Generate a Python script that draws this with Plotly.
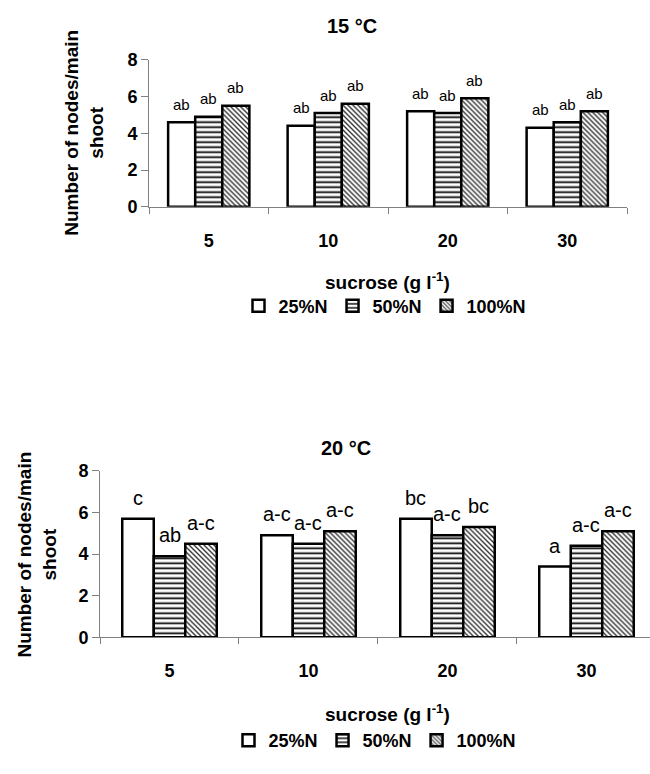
import plotly.graph_objects as go

# ---------------- data ----------------
sucrose = ["5", "10", "20", "30"]
series_names = ["25%N", "50%N", "100%N"]

t15_25 = [4.6, 4.4, 5.2, 4.3]
t15_50 = [4.9, 5.1, 5.1, 4.6]
t15_100 = [5.5, 5.6, 5.9, 5.2]
t15_lab_25 = ["ab", "ab", "ab", "ab"]
t15_lab_50 = ["ab", "ab", "ab", "ab"]
t15_lab_100 = ["ab", "ab", "ab", "ab"]

t20_25 = [5.7, 4.9, 5.7, 3.4]
t20_50 = [3.9, 4.5, 4.9, 4.4]
t20_100 = [4.5, 5.1, 5.3, 5.1]
t20_lab_25 = ["c", "a-c", "bc", "a"]
t20_lab_50 = ["ab", "a-c", "a-c", "a-c"]
t20_lab_100 = ["a-c", "a-c", "bc", "a-c"]

y_ticks = [0, 2, 4, 6, 8]
y_title = "Number of nodes/main<br>shoot"
x_title = "sucrose (g l<sup>-1</sup>)"

# ---------------- layout helpers ----------------
W, H = 650, 774
FONT = "Liberation Sans, Arial, sans-serif"
AX = "#808080"
BARGAP = 0.32
pos = list(range(len(sucrose)))          # category index positions
bounds = [p - 0.5 for p in pos] + [pos[-1] + 0.5]


def fx(p):
    return p / W


def fy(p):
    return 1 - p / H


def bold(size):
    return dict(family=FONT, size=size, color="black", weight="bold")


patterns = [
    dict(shape="", fillmode="replace"),
    dict(shape="-", fgcolor="black", bgcolor="white", size=5, solidity=0.35, fillmode="replace"),
    dict(shape="\\", fgcolor="#333333", bgcolor="white", size=3.5, solidity=0.4, fillmode="replace"),
]

fig = go.Figure()

charts = [
    dict(xa="x", ya="y", legend="legend",
         vals=[t15_25, t15_50, t15_100],
         labs=[t15_lab_25, t15_lab_50, t15_lab_100],
         px_left=149, px_right=627, xrange=[-0.5, 3.5],
         lab_size=15, lab_shift=18),
    dict(xa="x2", ya="y2", legend="legend2",
         vals=[t20_25, t20_50, t20_100],
         labs=[t20_lab_25, t20_lab_50, t20_lab_100],
         px_left=100, px_right=650, xrange=[-0.5, 3.457],
         lab_size=20, lab_shift=21),
]

annotations = []
for c in charts:
    cat_px = (c["px_right"] - c["px_left"]) / (c["xrange"][1] - c["xrange"][0])
    bw = cat_px * (1 - BARGAP) / 3
    for s, name in enumerate(series_names):
        fig.add_trace(go.Bar(
            x=pos, y=c["vals"][s], name=name,
            xaxis=c["xa"], yaxis=c["ya"], legend=c["legend"],
            marker=dict(color="white", line=dict(color="black", width=2.5),
                        pattern=patterns[s]),
            hoverinfo="skip",
        ))
        for i in pos:
            annotations.append(dict(
                x=i, y=c["vals"][s][i], xref=c["xa"], yref=c["ya"],
                text=c["labs"][s][i], showarrow=False,
                xanchor="center", yanchor="middle",
                xshift=(s - 1) * bw, yshift=c["lab_shift"],
                font=dict(family=FONT, size=c["lab_size"], color="black"),
            ))

# titles
common_ann = dict(xref="paper", yref="paper", showarrow=False,
                  xanchor="center", yanchor="middle")
annotations += [
    dict(text="15 °C", x=fx(352), y=fy(16), font=bold(20), **common_ann),
    dict(text="20 °C", x=fx(346), y=fy(450), font=bold(20), **common_ann),
    dict(text=y_title, x=fx(84), y=fy(126), textangle=-90, font=bold(19), **common_ann),
    dict(text=y_title, x=fx(37), y=fy(559), textangle=-90, font=bold(19), **common_ann),
    dict(text=x_title, x=fx(387), y=fy(278), font=bold(19), **common_ann),
    dict(text=x_title, x=fx(387), y=fy(722), font=bold(19), **common_ann),
]

xcommon = dict(tickvals=pos, ticktext=sucrose, ticks="",
               minor=dict(tickvals=bounds, ticks="outside", ticklen=6, tickcolor=AX),
               showline=True, linecolor=AX, linewidth=1,
               tickfont=bold(18),
               showgrid=False, zeroline=False, fixedrange=True)
ycommon = dict(range=[0, 8], tickvals=y_ticks, showline=True, linecolor=AX, linewidth=1,
               ticks="outside", ticklen=7, tickcolor=AX,
               tickfont=bold(18),
               showgrid=False, zeroline=False, fixedrange=True)

legcommon = dict(orientation="h", xanchor="center", yanchor="middle",
                 font=bold(18),
                 bgcolor="rgba(0,0,0,0)", itemwidth=30, traceorder="normal",
                 itemclick=False, itemdoubleclick=False)

fig.update_layout(
    width=W, height=H, margin=dict(l=0, r=0, t=0, b=0),
    paper_bgcolor="white", plot_bgcolor="white",
    barmode="group", bargap=BARGAP, bargroupgap=0,
    xaxis=dict(domain=[fx(149), fx(627)], range=charts[0]["xrange"], anchor="y",
               ticklabelstandoff=18, **xcommon),
    yaxis=dict(domain=[fy(202), fy(51)], anchor="x", **ycommon),
    xaxis2=dict(domain=[fx(100), 1.0], range=charts[1]["xrange"], anchor="y2",
                ticklabelstandoff=17, **xcommon),
    yaxis2=dict(domain=[fy(644), fy(473)], anchor="x2", **ycommon),
    legend=dict(x=fx(385), y=fy(304), **legcommon),
    legend2=dict(x=fx(375), y=fy(750), **legcommon),
    annotations=annotations,
    showlegend=True,
)

fig.write_html("out.html", config={"displayModeBar": False})
